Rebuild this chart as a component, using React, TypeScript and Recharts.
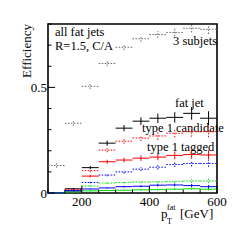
import React from 'react';
import { ComposedChart, Scatter, XAxis, YAxis, ErrorBar, ReferenceArea, Customized } from 'recharts';

const binCenters = [125, 175, 225, 275, 325, 375, 425, 475, 525, 575];
const binHalfWidths = [25, 25, 25, 25, 25, 25, 25, 25, 25, 25];

const threeSubjets = [0.13, 0.33, 0.505, 0.613, 0.69, 0.73, 0.75, 0.76, 0.78, 0.775];
const threeSubjetsErr = [0.01, 0.012, 0.012, 0.012, 0.013, 0.014, 0.016, 0.018, 0.02, 0.022];
const fatJet = [0, 0.02, 0.12, 0.236, 0.307, 0.34, 0.354, 0.358, 0.377, 0.354];
const fatJetErr = [0, 0.004, 0.008, 0.012, 0.015, 0.018, 0.022, 0.025, 0.03, 0.033];
const type1Candidate = [0, 0.016, 0.106, 0.203, 0.245, 0.26, 0.27, 0.283, 0.29, 0.29];
const type1CandidateErr = [0, 0.003, 0.007, 0.01, 0.012, 0.014, 0.018, 0.02, 0.024, 0.026];
const type1Tagged = [0, 0.012, 0.08, 0.148, 0.156, 0.165, 0.17, 0.178, 0.182, 0.18];
const type1TaggedErr = [0, 0.003, 0.006, 0.009, 0.011, 0.013, 0.015, 0.018, 0.02, 0.022];
const blueDotted = [0, 0.012, 0.05, 0.085, 0.1, 0.113, 0.122, 0.135, 0.14, 0.14];
const blueDottedErr = [0, 0.002, 0.004, 0.006, 0.008, 0.009, 0.011, 0.012, 0.014, 0.016];
const greenDotted = [0, 0.008, 0.033, 0.047, 0.05, 0.052, 0.053, 0.055, 0.057, 0.057];
const greenDottedErr = [0, 0.002, 0.003, 0.004, 0.005, 0.006, 0.007, 0.008, 0.009, 0.01];
const greenSolid = [0, 0.005, 0.01, 0.012, 0.013, 0.015, 0.016, 0.018, 0.02, 0.018];
const greenSolidErr = [0, 0.001, 0.002, 0.002, 0.003, 0.003, 0.004, 0.005, 0.005, 0.006];
const blueSolid = [0, 0.01, 0.019, 0.024, 0.03, 0.032, 0.037, 0.038, 0.035, 0.03];
const blueSolidErr = [0, 0.002, 0.002, 0.003, 0.004, 0.005, 0.006, 0.007, 0.008, 0.008];

const xTicks = [100, 150, 200, 250, 300, 350, 400, 450, 500, 550, 600];
const xMajor = [200, 400, 600];
const yTicks = [0, 0.1, 0.2, 0.3, 0.4, 0.5, 0.6, 0.7, 0.8];
const yMajor = [0, 0.5];

const FONT = "'Liberation Serif', 'DejaVu Serif', serif";

const series = [
  { key: 'sub3', values: threeSubjets, errors: threeSubjetsErr, color: '#666', dash: '1.5 1.5' },
  { key: 'fat', values: fatJet, errors: fatJetErr, color: '#000', dash: undefined },
  { key: 't1c', values: type1Candidate, errors: type1CandidateErr, color: '#ff0000', dash: '1.5 1.5' },
  { key: 't1t', values: type1Tagged, errors: type1TaggedErr, color: '#ff0000', dash: undefined },
  { key: 'bd', values: blueDotted, errors: blueDottedErr, color: '#0000ff', dash: '1.5 1.5' },
  { key: 'gd', values: greenDotted, errors: greenDottedErr, color: '#00dd00', dash: '1.5 1.5' },
  { key: 'gs', values: greenSolid, errors: greenSolidErr, color: '#00dd00', dash: undefined },
  { key: 'bs', values: blueSolid, errors: blueSolidErr, color: '#0000ff', dash: undefined },
];

const XTick = (props: any) => {
  const { x, y, payload } = props;
  const major = xMajor.includes(payload.value);
  return (
    <g>
      <line x1={x} y1={y} x2={x} y2={y - (major ? 7 : 3.5)} stroke="#000" strokeWidth={1} />
      {major && (
        <text x={x} y={y + 13} textAnchor="middle" fontFamily={FONT} fontSize={13} fill="#000">
          {payload.value}
        </text>
      )}
    </g>
  );
};

const YTick = (props: any) => {
  const { x, y, payload } = props;
  const major = yMajor.includes(payload.value);
  return (
    <g>
      <line x1={x} y1={y} x2={x + (major ? 7 : 3.5)} y2={y} stroke="#000" strokeWidth={1} />
      {major && (
        <text x={x - 1} y={y + 4.5} textAnchor="end" fontFamily={FONT} fontSize={13} fill="#000">
          {payload.value}
        </text>
      )}
    </g>
  );
};

const Texts = () => (
  <g fontFamily={FONT} fill="#000">
    <text x={55} y={36} fontSize={12.5}>all fat jets</text>
    <text x={55} y={50} fontSize={12.5}>R=1.5, C/A</text>
    <text x={173} y={45} fontSize={12.5}>3 subjets</text>
    <text x={175} y={107} fontSize={12.5}>fat jet</text>
    <text x={142} y={132} fontSize={12.5}>type 1 candidate</text>
    <text x={147} y={151} fontSize={12.5}>type 1 tagged</text>
    <text x={31} y={24} fontSize={13} textAnchor="end" transform="rotate(-90 31 24)">Efficiency</text>
    <text x={161} y={218} fontSize={13}>p</text>
    <text x={167} y={210} fontSize={8}>fat</text>
    <text x={167} y={224} fontSize={8}>T</text>
    <text x={180} y={218} fontSize={13}>[GeV]</text>
  </g>
);

export default function App() {
  return (
    <div style={{ position: 'absolute', left: 0, top: 0, width: 242, height: 242, background: '#fff' }}>
      <ComposedChart width={242} height={242} margin={{ top: 24, right: 25, bottom: 19, left: 18 }}>
        <XAxis
          type="number"
          dataKey="x"
          domain={[100, 600]}
          ticks={xTicks}
          interval={0}
          height={30}
          tickSize={0}
          tickMargin={0}
          axisLine={false}
          tickLine={false}
          tick={<XTick />}
          allowDataOverflow
        />
        <YAxis
          type="number"
          dataKey="y"
          domain={[0, 0.8]}
          ticks={yTicks}
          interval={0}
          width={30}
          tickSize={0}
          tickMargin={0}
          axisLine={false}
          tickLine={false}
          tick={<YTick />}
          allowDataOverflow
        />
        {series.map((s) => (
          <Scatter
            key={s.key}
            data={binCenters.map((x, i) => ({ x, y: s.values[i], ex: binHalfWidths[i], ey: s.errors[i] }))}
            dataKey="y"
            isAnimationActive={false}
            shape={() => <g />}
          >
            <ErrorBar dataKey="ex" direction="x" width={0} stroke={s.color} strokeWidth={1} strokeDasharray={s.dash} isAnimationActive={false} />
            <ErrorBar dataKey="ey" direction="y" width={0} stroke={s.color} strokeWidth={1} strokeDasharray={s.dash} isAnimationActive={false} />
          </Scatter>
        ))}
        <ReferenceArea x1={100} x2={600} y1={0} y2={0.8} fill="none" stroke="#000" strokeWidth={1.6} ifOverflow="visible" />
        <Customized component={Texts} />
      </ComposedChart>
    </div>
  );
}
